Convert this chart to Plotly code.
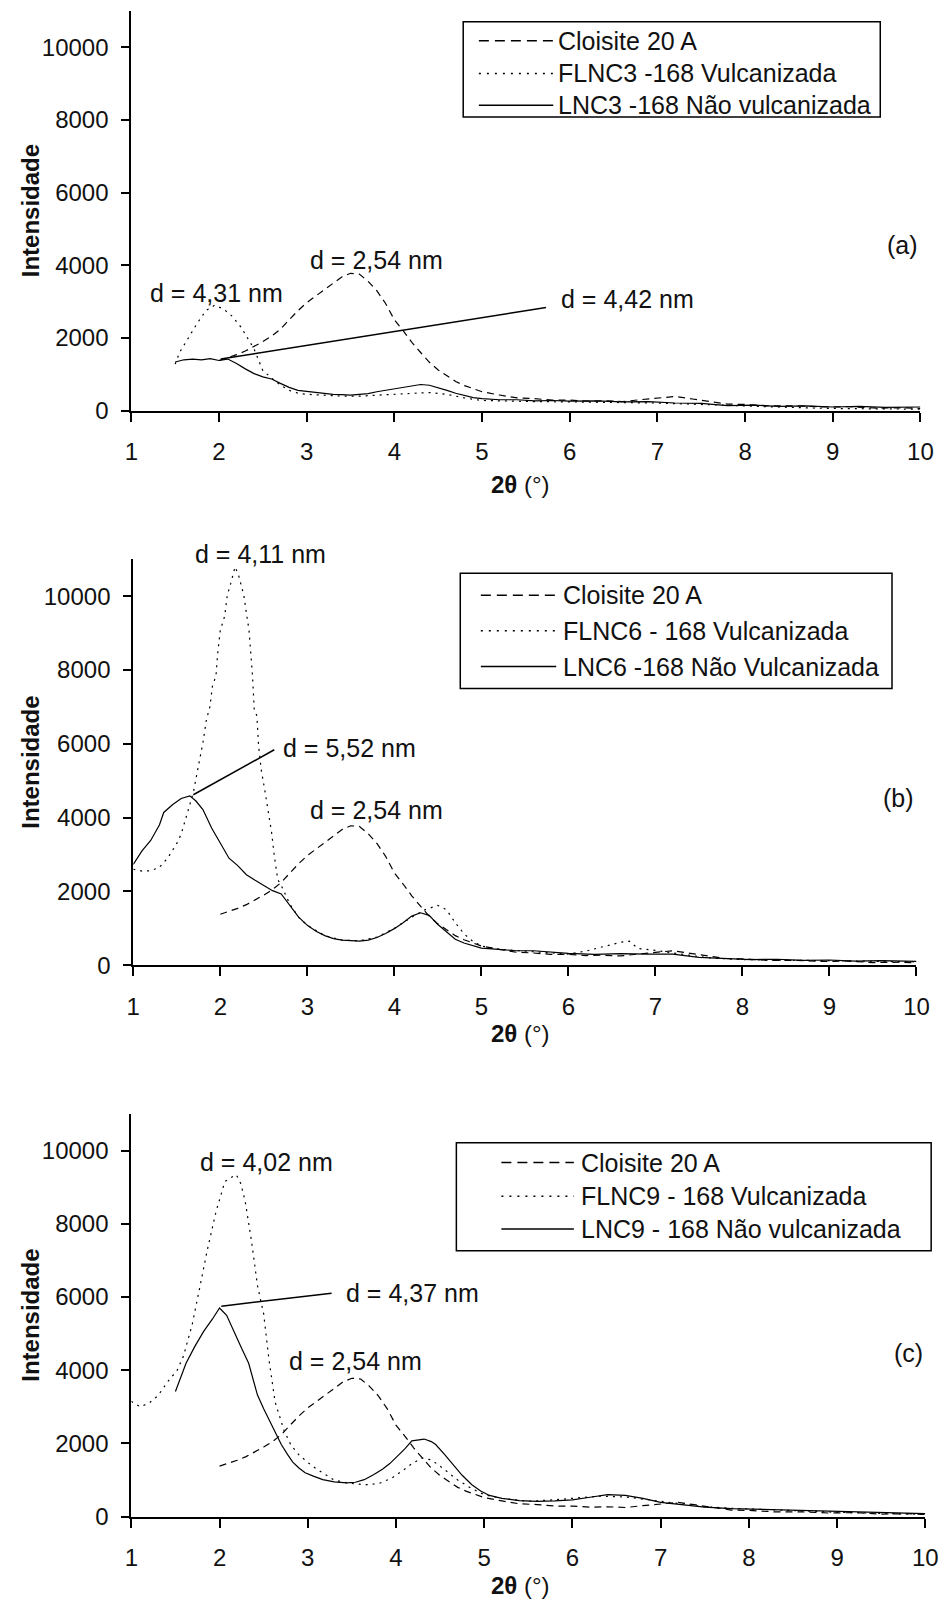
import plotly.graph_objects as go

# ---------------- DATA ----------------
# Cloisite 20 A (same sample in the three panels)
cl_x = [2.0, 2.1, 2.2, 2.3, 2.4, 2.5, 2.6, 2.7, 2.8, 2.9, 3.0, 3.1, 3.2, 3.3, 3.4, 3.5, 3.6, 3.7, 3.8, 3.9,
        4.0, 4.1, 4.2, 4.3, 4.4, 4.5, 4.6, 4.7, 4.8, 4.9, 5.0, 5.2, 5.4, 5.6, 5.8, 6.0, 6.2, 6.4, 6.6, 6.8,
        7.0, 7.2, 7.4, 7.6, 7.8, 8.0, 8.3, 8.6, 8.9, 9.2, 9.5, 9.8, 10.0]
cl_y = [1380, 1450, 1540, 1640, 1760, 1900, 2050, 2240, 2500, 2750, 2970, 3150, 3320, 3500, 3680, 3780, 3760, 3560, 3300, 2950,
        2500, 2200, 1880, 1600, 1330, 1120, 950, 800, 690, 600, 520, 430, 350, 330, 290, 290, 260, 270, 250, 300,
        340, 390, 320, 250, 180, 170, 130, 130, 100, 110, 70, 80, 60]

# Panel (a)
lnc3_x = [1.5, 1.6, 1.7, 1.8, 1.9, 2.0, 2.1, 2.2, 2.3, 2.4, 2.5, 2.6, 2.7, 2.8, 2.9, 3.0, 3.1, 3.2, 3.3, 3.4,
          3.5, 3.6, 3.7, 3.8, 3.9, 4.0, 4.1, 4.2, 4.3, 4.4, 4.5, 4.6, 4.7, 4.8, 4.9, 5.0, 5.2, 5.4, 5.6, 5.8,
          6.0, 6.3, 6.6, 6.9, 7.2, 7.5, 7.8, 8.1, 8.4, 8.7, 9.0, 9.3, 9.6, 10.0]
lnc3_y = [1340, 1400, 1420, 1400, 1430, 1380, 1420, 1300, 1150, 1020, 930, 870, 750, 640, 560, 530, 500, 470, 450, 440,
          430, 450, 470, 520, 560, 610, 640, 680, 720, 700, 640, 560, 480, 410, 360, 330, 300, 300, 270, 280,
          260, 270, 240, 250, 210, 200, 140, 150, 120, 130, 100, 120, 90, 100]
flnc3_x = [1.5, 1.55, 1.65, 1.75, 1.85, 1.95, 2.05, 2.15, 2.25, 2.32, 2.4, 2.45, 2.5, 2.6, 2.7, 2.8, 2.9, 3.0, 3.2, 3.4,
           3.6, 3.8, 4.0, 4.2, 4.4, 4.6, 4.8, 5.0, 5.3, 5.6, 6.0, 6.5, 7.0, 7.5, 8.0, 8.5, 9.0, 9.5, 10.0]
flnc3_y = [1280, 1600, 2000, 2400, 2750, 2900, 2800, 2600, 2300, 2020, 1700, 1400, 1100, 900, 700, 560, 480, 450, 420, 400,
           400, 420, 450, 480, 500, 450, 350, 280, 260, 250, 240, 230, 210, 170, 120, 90, 60, 50, 40]

# Panel (b)
lnc6_x = [1.0, 1.1, 1.2, 1.3, 1.35, 1.45, 1.55, 1.65, 1.72, 1.8, 1.9, 2.0, 2.1, 2.2, 2.3, 2.4, 2.5, 2.6, 2.7, 2.8,
          2.9, 3.0, 3.1, 3.2, 3.3, 3.4, 3.5, 3.6, 3.7, 3.8, 3.9, 4.0, 4.1, 4.2, 4.3, 4.4, 4.5, 4.6, 4.7, 4.8,
          4.9, 5.0, 5.2, 5.4, 5.6, 5.8, 6.0, 6.3, 6.6, 6.9, 7.2, 7.5, 7.8, 8.1, 8.4, 8.7, 9.0, 9.3, 9.6, 10.0]
lnc6_y = [2730, 3100, 3380, 3800, 4140, 4350, 4520, 4590, 4450, 4220, 3720, 3300, 2900, 2700, 2450, 2300, 2150, 2020, 1930, 1600,
          1300, 1080, 920, 800, 720, 680, 660, 650, 680, 750, 860, 990, 1150, 1330, 1420, 1350, 1100, 900, 700, 600,
          520, 460, 430, 390, 390, 350, 320, 290, 310, 300, 300, 210, 190, 150, 160, 130, 140, 110, 120, 100]
flnc6_x = [1.0, 1.1, 1.2, 1.3, 1.4, 1.5, 1.55, 1.61, 1.69, 1.74, 1.8, 1.84, 1.88, 1.91, 1.95, 1.97, 2.0, 2.05, 2.08, 2.12,
           2.17, 2.21, 2.27, 2.3, 2.33, 2.35, 2.37, 2.39, 2.42, 2.44, 2.47, 2.51, 2.55, 2.59, 2.62, 2.66, 2.7, 2.8, 2.9, 3.0,
           3.2, 3.4, 3.6, 3.8, 4.0, 4.2, 4.35, 4.5, 4.6, 4.7, 4.8, 4.9, 5.0, 5.2, 5.5, 5.8, 6.0, 6.2, 6.4, 6.6,
           6.7, 6.8, 7.0, 7.3, 7.6, 8.0, 8.5, 9.0, 9.5, 10.0]
flnc6_y = [2600, 2550, 2560, 2650, 2920, 3300, 3550, 4050, 4680, 5300, 6030, 6650, 7000, 7570, 7840, 8460, 9080, 9460, 10030, 10350,
           10800, 10570, 10030, 9540, 9080, 8460, 7840, 6920, 6760, 5950, 5300, 4760, 4220, 3590, 2970, 2320, 2160, 1650, 1300, 1080,
           800, 680, 660, 760, 1000, 1300, 1500, 1620, 1500, 1150, 850, 650, 520, 430, 380, 330, 300, 380, 500, 620,
           650, 450, 400, 300, 200, 150, 130, 110, 100, 90]

# Panel (c)
lnc9_x = [1.5, 1.62, 1.72, 1.82, 1.92, 2.0, 2.08, 2.16, 2.25, 2.33, 2.43, 2.5, 2.56, 2.63, 2.7, 2.77, 2.83, 2.9, 2.97, 3.07,
          3.17, 3.3, 3.44, 3.54, 3.64, 3.75, 3.85, 3.93, 4.01, 4.1, 4.18, 4.25, 4.32, 4.4, 4.45, 4.55, 4.65, 4.75, 4.86, 4.96,
          5.06, 5.2, 5.4, 5.6, 5.8, 6.0, 6.2, 6.4, 6.6, 6.8, 7.0, 7.2, 7.5, 7.8, 8.1, 8.4, 8.7, 9.0, 9.3, 9.6, 10.0]
lnc9_y = [3420, 4190, 4650, 5060, 5400, 5700, 5500, 5060, 4600, 4190, 3320, 2950, 2650, 2300, 1970, 1700, 1490, 1330, 1200, 1100,
          1010, 950, 920, 940, 1010, 1150, 1300, 1450, 1640, 1850, 2070, 2100, 2120, 2050, 1970, 1700, 1400, 1130, 870, 700,
          580, 500, 440, 420, 430, 460, 530, 600, 580, 500, 390, 330, 260, 220, 200, 190, 170, 160, 140, 120, 80]
flnc9_x = [1.0, 1.1, 1.2, 1.3, 1.42, 1.52, 1.59, 1.69, 1.78, 1.86, 1.96, 2.06, 2.12, 2.19, 2.24, 2.29, 2.36, 2.43, 2.5, 2.56,
           2.63, 2.73, 2.81, 2.9, 3.0, 3.1, 3.2, 3.3, 3.45, 3.64, 3.8, 3.95, 4.1, 4.18, 4.3, 4.4, 4.5, 4.6, 4.7, 4.85,
           5.0, 5.2, 5.5, 5.8, 6.0, 6.3, 6.6, 6.9, 7.2, 7.5, 7.8, 8.1, 8.5, 9.0, 9.5, 10.0]
flnc9_y = [3150, 3000, 3100, 3300, 3710, 4000, 4380, 5250, 6310, 7270, 8330, 9150, 9250, 9340, 9100, 8620, 7560, 6310, 5540, 4290,
           3130, 2360, 1950, 1690, 1480, 1300, 1150, 1000, 920, 870, 900, 1050, 1300, 1450, 1600, 1550, 1380, 1200, 1000, 780,
           600, 500, 420, 460, 500, 560, 540, 450, 340, 270, 230, 200, 160, 120, 90, 60]

names_a = ["Cloisite 20 A", "FLNC3 -168 Vulcanizada", "LNC3 -168 Não vulcanizada"]
names_b = ["Cloisite 20 A", "FLNC6 - 168 Vulcanizada", "LNC6 -168 Não Vulcanizada"]
names_c = ["Cloisite 20 A", "FLNC9 - 168 Vulcanizada", "LNC9 - 168 Não vulcanizada"]

# peak labels: (text, x, y, xanchor) in data units
labels_a = [("d = 4,31 nm", 1.97, 3250, "center"), ("d = 2,54 nm", 3.80, 4150, "center"),
            ("d = 4,42 nm", 5.88, 3060, "left"), ("(a)", 10.0, 4560, "right")]
labels_b = [("d = 4,11 nm", 1.69, 11160, "left"), ("d = 5,52 nm", 2.70, 5890, "left"),
            ("d = 2,54 nm", 3.01, 4220, "left"), ("(b)", 10.0, 4540, "right")]
labels_c = [("d = 4,02 nm", 1.76, 9700, "left"), ("d = 4,37 nm", 3.41, 6100, "left"),
            ("d = 2,54 nm", 2.77, 4240, "left"), ("(c)", 10.0, 4480, "right")]
# leader lines (x0, y0, x1, y1) in data units
leader_a = (2.02, 1420, 5.73, 2840)
leader_b = (1.69, 4620, 2.62, 5840)
leader_c = (2.02, 5750, 3.27, 6100)

x_ticks = [1, 2, 3, 4, 5, 6, 7, 8, 9, 10]
y_ticks = [0, 2000, 4000, 6000, 8000, 10000]
y_tick_text = ["0", "2000", "4000", "6000", "8000", "10000"]

# ---------------- FIGURE ----------------
W, H = 952, 1610
FONT = "Liberation Sans, Arial, sans-serif"
INK = "#111"
XMIN, XMAX, YMAX = 1, 10, 11000

# layout per panel (pixel geometry)
panels = [
    dict(suf="", names=names_a, ser=(cl_x, cl_y, flnc3_x, flnc3_y, lnc3_x, lnc3_y), labels=labels_a,
         leader=leader_a, xpx=(127, 933), ypx=(414, 11), title_y=488,
         box=(466, 892, 22, 118), rows=(41, 74, 106), sample=(482, 558), text_x=561),
    dict(suf="2", names=names_b, ser=(cl_x, cl_y, flnc6_x, flnc6_y, lnc6_x, lnc6_y), labels=labels_b,
         leader=leader_b, xpx=(129, 929), ypx=(973, 564), title_y=1042,
         box=(463, 904, 578, 694), rows=(600, 636, 672), sample=(484, 561), text_x=566),
    dict(suf="3", names=names_c, ser=(cl_x, cl_y, flnc9_x, flnc9_y, lnc9_x, lnc9_y), labels=labels_c,
         leader=leader_c, xpx=(127, 938), ypx=(1529, 1123), title_y=1598,
         box=(459, 944, 1152, 1261), rows=(1172, 1206, 1239), sample=(505, 579), text_x=584),
]

fig = go.Figure()
dashes = ["7px,5px", "2px,5px", "solid"]
legend_dashes = ["10px,6px", "2px,6px", "solid"]
annotations = []
shapes = []
layout = dict(width=W, height=H, margin=dict(l=0, r=0, t=0, b=0), showlegend=False,
              paper_bgcolor="white", plot_bgcolor="white",
              font=dict(family=FONT, size=24, color=INK))

def px_x(v):
    return v / W

def px_y(v):
    return 1 - v / H

for p in panels:
    suf = p["suf"]
    xa, ya = "x" + suf, "y" + suf
    ser = p["ser"]
    for i in range(3):
        fig.add_trace(go.Scatter(x=ser[2 * i], y=ser[2 * i + 1], mode="lines", name=p["names"][i],
                                 xaxis=xa, yaxis=ya,
                                 line=dict(color="black", width=1.2, dash=dashes[i])))
    xdom = [px_x(p["xpx"][0]), px_x(p["xpx"][1])]
    ydom = [px_y(p["ypx"][0]), px_y(p["ypx"][1])]
    layout["xaxis" + suf] = dict(domain=xdom, range=[XMIN, XMAX], tickvals=x_ticks, anchor=ya,
                                 showline=True, linecolor="black", linewidth=2, ticks="outside",
                                 ticklen=9, tickwidth=1.5, tickcolor="black", showgrid=False,
                                 zeroline=False, ticklabelstandoff=10,
                                 tickfont=dict(size=24, family=FONT, color=INK))
    layout["yaxis" + suf] = dict(domain=ydom, range=[0, YMAX], tickvals=y_ticks, ticktext=y_tick_text,
                                 anchor=xa, showline=True, linecolor="black", linewidth=2, ticks="outside",
                                 ticklen=8, tickwidth=1.5, tickcolor="black", showgrid=False,
                                 zeroline=False, ticklabelstandoff=8,
                                 tickfont=dict(size=24, family=FONT, color=INK))
    # peak labels (domain refs so that labels above the axis top stay visible)
    for txt, lx, ly, anc in p["labels"]:
        annotations.append(dict(text=txt, x=(lx - XMIN) / (XMAX - XMIN), y=ly / YMAX,
                                xref=xa + " domain", yref=ya + " domain", xanchor=anc, yanchor="middle",
                                showarrow=False, font=dict(size=25, family=FONT, color=INK)))
    ld = p["leader"]
    shapes.append(dict(type="line", xref=xa, yref=ya, x0=ld[0], y0=ld[1], x1=ld[2], y1=ld[3],
                       line=dict(color="black", width=1.5)))
    # axis titles
    annotations.append(dict(text="<b>Intensidade</b>", textangle=-90, x=px_x(24), y=(ydom[0] + ydom[1]) / 2,
                            xref="paper", yref="paper", xanchor="center", yanchor="middle", showarrow=False,
                            font=dict(size=24, family=FONT, color=INK)))
    annotations.append(dict(text="<b>2θ</b> (°)", x=px_x(525), y=px_y(p["title_y"]),
                            xref="paper", yref="paper", xanchor="center", yanchor="middle", showarrow=False,
                            font=dict(size=24, family=FONT, color=INK)))
    # legend box (drawn by hand to match the boxed legend of the original)
    bx0, bx1, by0, by1 = p["box"]
    shapes.append(dict(type="rect", xref="paper", yref="paper", x0=px_x(bx0), x1=px_x(bx1),
                       y0=px_y(by1), y1=px_y(by0), line=dict(color="black", width=1.5),
                       fillcolor="white", layer="below"))
    for i in range(3):
        ry = px_y(p["rows"][i])
        shapes.append(dict(type="line", xref="paper", yref="paper", x0=px_x(p["sample"][0]),
                           x1=px_x(p["sample"][1]), y0=ry, y1=ry,
                           line=dict(color="black", width=1.5, dash=legend_dashes[i])))
        annotations.append(dict(text=p["names"][i], x=px_x(p["text_x"]), y=ry, xref="paper", yref="paper",
                                xanchor="left", yanchor="middle", showarrow=False,
                                font=dict(size=25, family=FONT, color=INK)))

layout["annotations"] = annotations
layout["shapes"] = shapes
fig.update_layout(**layout)
fig.write_html("out.html")
